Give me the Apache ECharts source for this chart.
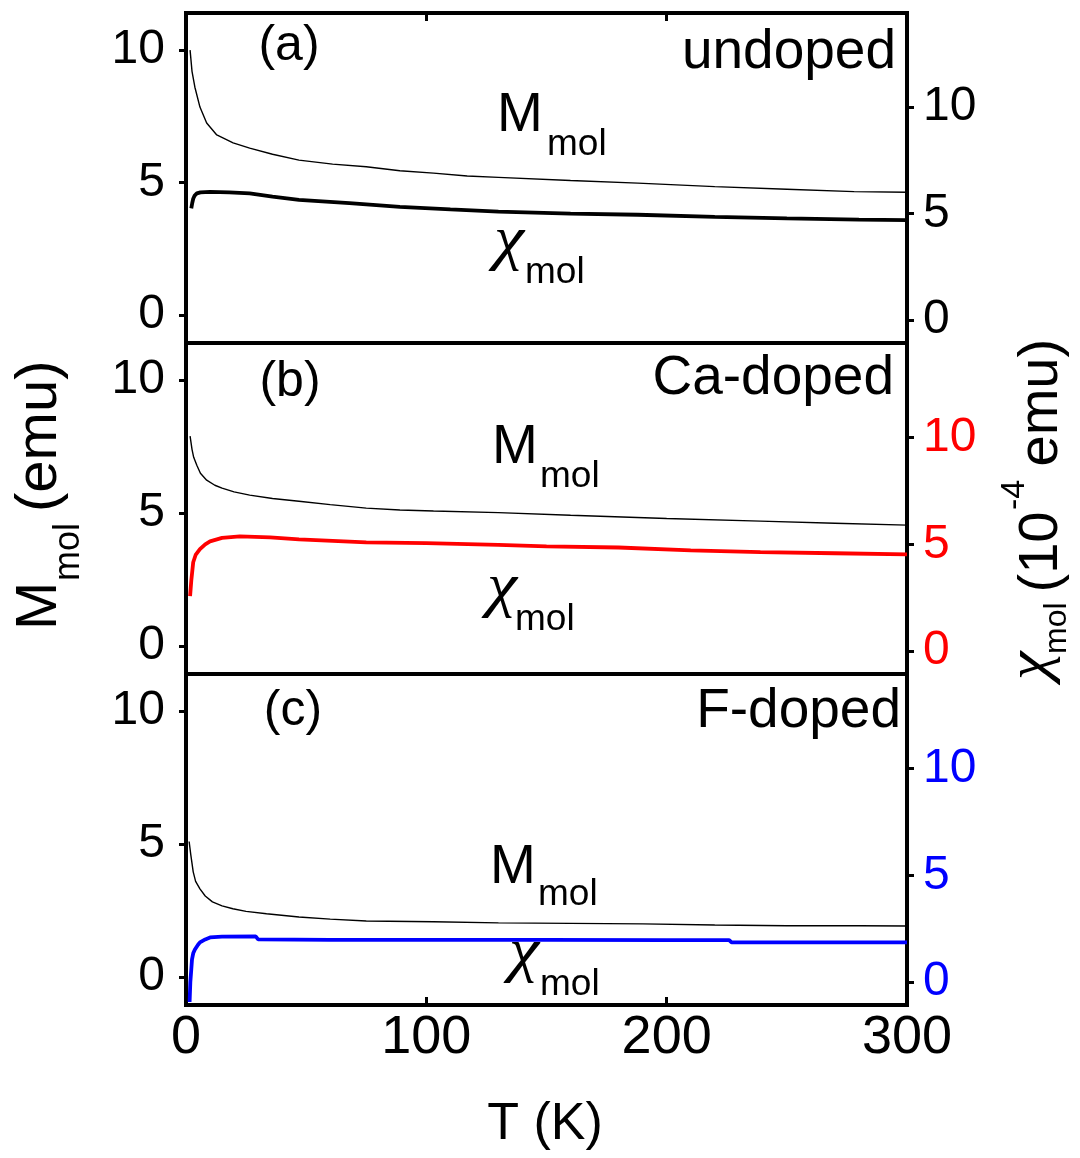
<!DOCTYPE html>
<html><head><meta charset="utf-8">
<script src="https://cdn.jsdelivr.net/npm/echarts@6/dist/echarts.min.js"></script>
<style>html,body{margin:0;padding:0;background:#fff}#c{width:1080px;height:1158px}</style>
</head><body><div id="c"></div>
<script>
// ---- tick labels ----
const xTicks = [0, 100, 200, 300];
const leftTicks = [0, 5, 10];
const rightTicks = [0, 5, 10];
const panelTags = ['(a)', '(b)', '(c)'];
const panelNames = ['undoped', 'Ca-doped', 'F-doped'];
const chiColors = ['#000000', '#ff0000', '#0000ff'];

// ---- (a) undoped ----
const T_a_M = [1.7, 2.5, 3.7, 5.8, 8.6, 12.8, 19.6, 26.5, 36, 47, 61, 75, 89, 103, 117, 130, 160, 188, 220, 250, 278, 300];
const M_a   = [10.0, 9.2, 8.6, 7.85, 7.25, 6.8, 6.5, 6.3, 6.07, 5.85, 5.7, 5.6, 5.45, 5.36, 5.25, 5.2, 5.08, 4.98, 4.85, 4.75, 4.66, 4.64];
const T_a_X = [2.2, 2.6, 3, 3.6, 4.5, 6, 10, 18, 26.5, 36, 47, 68, 89, 110, 130, 160, 188, 220, 250, 280, 300];
const X_a   = [5.25, 5.5, 5.7, 5.85, 5.95, 6.0, 6.02, 6.0, 5.95, 5.8, 5.65, 5.5, 5.32, 5.2, 5.1, 5.0, 4.95, 4.85, 4.78, 4.72, 4.7];

// ---- (b) Ca-doped ----
const T_b_M = [1.7, 2.5, 3.2, 4.5, 6, 8.6, 12, 15, 20, 26.5, 36, 47, 60, 75, 89, 103, 130, 160, 200, 239, 270, 300];
const M_b   = [7.9, 7.4, 7.1, 6.8, 6.5, 6.24, 6.05, 5.94, 5.8, 5.68, 5.55, 5.45, 5.32, 5.19, 5.12, 5.08, 5.02, 4.92, 4.8, 4.7, 4.62, 4.55];
const T_b_X = [1.7, 2.2, 3, 4, 5.8, 8, 10, 15, 22.4, 35, 47, 75, 100, 130, 150, 180, 210, 239, 270, 300];
const X_b   = [2.57, 3.3, 4.16, 4.5, 4.77, 5.0, 5.14, 5.3, 5.37, 5.32, 5.23, 5.09, 5.05, 4.97, 4.9, 4.85, 4.72, 4.63, 4.58, 4.53];

// ---- (c) F-doped ----
const T_c_M = [1.3, 2, 3, 4, 5.8, 8, 11, 15, 19.5, 25, 33.5, 47, 60, 75, 103, 130, 160, 190, 220, 250, 280, 300];
const M_c   = [5.1, 4.6, 3.96, 3.6, 3.32, 3.05, 2.83, 2.68, 2.57, 2.47, 2.38, 2.26, 2.18, 2.11, 2.08, 2.04, 2.02, 2.0, 1.96, 1.93, 1.93, 1.92];
const T_c_X = [1.5, 1.8, 2.2, 2.5, 3, 3.7, 5, 5.8, 8, 10, 15, 29, 30, 60, 100, 150, 200, 226, 227, 260, 300];
const X_c   = [-0.93, 0, 0.6, 1.07, 1.35, 1.53, 1.75, 1.86, 2.0, 2.09, 2.13, 2.14, 2.0, 1.98, 1.98, 1.98, 1.97, 1.97, 1.86, 1.86, 1.86];

const zip = (a, b) => a.map((v, i) => [v, b[i]]);
const Mdata = [zip(T_a_M, M_a), zip(T_b_M, M_b), zip(T_c_M, M_c)];
const Xdata = [zip(T_a_X, X_a), zip(T_b_X, X_b), zip(T_c_X, X_c)];

const SANS = 'Liberation Sans, Arial, sans-serif';
const SERIF = 'Liberation Serif, Times New Roman, serif';

const gridTops = [13, 343, 674];
const gridHeights = [330, 331, 331];
const grid = gridTops.map((t, i) => ({
  left: 186, right: 173, top: t, height: gridHeights[i],
  show: true, borderColor: '#000', borderWidth: 4, backgroundColor: 'transparent'
}));

const xAxis = [0, 1, 2].map(i => ({
  type: 'value', gridIndex: i, min: 0, max: 300, interval: 100, position: 'bottom',
  axisLine: { show: true, onZero: false, lineStyle: { color: '#000', width: 4 } },
  axisTick: { show: i === 2, inside: true, length: 8, lineStyle: { color: '#000', width: 3 } },
  axisLabel: { show: i === 2, customValues: xTicks, fontSize: 54, fontFamily: SANS, color: '#000', margin: 6 },
  splitLine: { show: false }
}));
xAxis.push({
  type: 'value', gridIndex: 0, min: 0, max: 300, interval: 100, position: 'top',
  axisLine: { show: true, onZero: false, lineStyle: { color: '#000', width: 4 } },
  axisTick: { show: true, inside: true, length: 8, lineStyle: { color: '#000', width: 3 } },
  axisLabel: { show: false }, splitLine: { show: false }
});

const yAxis = [];
[0, 1, 2].forEach(i => {
  yAxis.push({
    type: 'value', gridIndex: i, position: 'left', min: -1.05, max: 11.4,
    axisLine: { show: true, onZero: false, lineStyle: { color: '#000', width: 4 } },
    axisTick: { show: true, customValues: leftTicks, inside: false, length: 7, lineStyle: { color: '#000', width: 3 } },
    axisLabel: { show: true, customValues: leftTicks, fontSize: 48, fontFamily: SANS, color: '#000', margin: 21, padding: [0, 0, 16, 0] },
    splitLine: { show: false }
  });
  yAxis.push({
    type: 'value', gridIndex: i, position: 'right', min: -1.07, max: 14.42,
    axisLine: { show: true, onZero: false, lineStyle: { color: '#000', width: 4 } },
    axisTick: { show: true, customValues: rightTicks, inside: false, length: 7, lineStyle: { color: '#000', width: 3 } },
    axisLabel: { show: true, customValues: rightTicks, fontSize: 48, fontFamily: SANS, color: chiColors[i], margin: 16, padding: [0, 0, 10, 0] },
    splitLine: { show: false }
  });
});

const series = [];
[0, 1, 2].forEach(i => {
  series.push({
    type: 'line', xAxisIndex: i, yAxisIndex: 2 * i, data: Mdata[i], showSymbol: false,
    lineStyle: { color: '#000', width: 1.4 }, smooth: false, z: 3
  });
  series.push({
    type: 'line', xAxisIndex: i, yAxisIndex: 2 * i + 1, data: Xdata[i], showSymbol: false,
    lineStyle: { color: chiColors[i], width: 3.8 }, smooth: false, z: 4
  });
});

function txt(x, y, text, fs, opt) {
  opt = opt || {};
  const el = {
    type: 'text', x: x, y: y, z: 10,
    style: {
      text: text, fontSize: fs, fontFamily: opt.family || SANS, fontStyle: opt.italic ? 'italic' : 'normal',
      fill: opt.color || '#000', align: opt.align || 'left', verticalAlign: opt.valign || 'middle'
    }
  };
  if (opt.scaleX) el.scaleX = opt.scaleX;
  return el;
}

const tagPos = [[289, 46], [290, 382], [293, 711]];
const namePos = [[896, 53], [894, 379], [901, 712]];
const Mpos = [[497, 116], [492, 448], [490, 868]];
const Msub = [[547, 145], [540, 477], [538, 895]];
const Cpos = [[494, 242], [487, 589], [509, 954]];
const Csub = [[525, 273], [515, 620], [540, 985]];

const graphic = [];
[0, 1, 2].forEach(i => {
  graphic.push(txt(tagPos[i][0], tagPos[i][1], panelTags[i], 50, { align: 'center' }));
  graphic.push(txt(namePos[i][0], namePos[i][1], panelNames[i], 55, { align: 'right' }));
  graphic.push(txt(Mpos[i][0], Mpos[i][1], 'M', 55));
  graphic.push(txt(Msub[i][0], Msub[i][1], 'mol', 37));
  graphic.push(txt(Cpos[i][0], Cpos[i][1], 'χ', 62, { family: SERIF, italic: true, scaleX: 1.1 }));
  graphic.push(txt(Csub[i][0], Csub[i][1], 'mol', 37));
});
// x axis title
graphic.push(txt(545, 1125, 'T (K)', 52, { align: 'center' }));
// left axis title (rotated)
graphic.push({
  type: 'group', x: 60, y: 630, rotation: Math.PI / 2,
  children: [
    txt(0, -20, 'M', 58),
    txt(49, 9, 'mol', 36),
    txt(118, -20, '(emu)', 58)
  ]
});
// right axis title (rotated)
graphic.push({
  type: 'group', x: 1062, y: 682, rotation: Math.PI / 2,
  children: [
    txt(2, -31, 'χ', 60, { family: SERIF, italic: true, scaleX: 1.08 }),
    txt(28, -5, 'mol', 32),
    txt(74, -20, ' (10', 56),
    txt(172, -47, '-4', 34),
    txt(200, -20, ' emu)', 56)
  ]
});

const chart = echarts.init(document.getElementById('c'), null, { renderer: 'canvas' });
chart.setOption({
  animation: false,
  backgroundColor: '#fff',
  grid: grid, xAxis: xAxis, yAxis: yAxis, series: series, graphic: graphic
});
</script>
</body></html>
